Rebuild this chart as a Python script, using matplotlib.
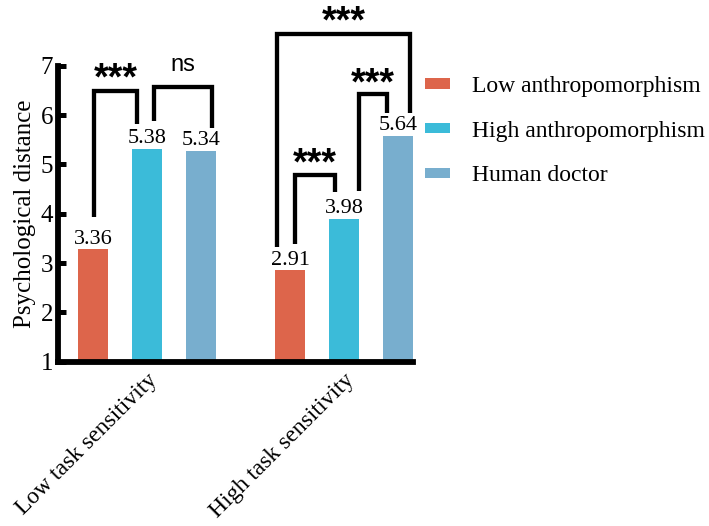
import numpy as np
import matplotlib
matplotlib.use('Agg')
import matplotlib.pyplot as plt

groups = ['Low task sensitivity', 'High task sensitivity']
series = ['Low anthropomorphism', 'High anthropomorphism', 'Human doctor']
colors = ['#DD654B', '#3BBBD9', '#78AECE']
# bar heights as drawn, and the printed values
low_anthro = [3.28, 2.85]
high_anthro = [5.31, 3.90]
human_doc = [5.28, 5.58]
low_text = ['3.36', '2.91']
high_text = ['5.38', '3.98']
human_text = ['5.34', '5.64']
yticks = [1, 2, 3, 4, 5, 6, 7]

# significance brackets: x_left, x_right, y_left, y_right, y_top, label, label y
brackets = [
    (-0.269, -0.051, 3.93, 5.82, 6.49, '***', 6.95),
    (0.036, 0.330, 5.87, 5.74, 6.56, 'ns', 6.90),
    (0.751, 0.954, 3.39, 4.43, 4.79, '***', 5.23),
    (1.076, 1.217, 4.45, 6.04, 6.42, '***', 6.85),
    (0.660, 1.335, 3.33, 6.05, 7.65, '***', 8.11),
]

serif = ['Liberation Serif', 'DejaVu Serif']
plt.rcParams['font.family'] = serif

fig = plt.figure(figsize=(7.09, 5.26), dpi=100)
ax = fig.add_axes([0.0825, 0.3124, 0.5, 0.5627])

x = np.arange(len(groups))
offs = [-0.272, 0.0, 0.274]
width = 0.152
vals = [low_anthro, high_anthro, human_doc]
texts = [low_text, high_text, human_text]
for i in range(3):
    ax.bar(x + offs[i], np.array(vals[i]) - 1, width, bottom=1, color=colors[i],
           label=series[i], zorder=2)
    for j in range(len(groups)):
        ax.annotate(texts[i][j], (x[j] + offs[i], vals[i][j]), xytext=(0, 0.5),
                    textcoords='offset points', ha='center', va='bottom',
                    fontsize=16, zorder=1)

lw = 3.1
star_fs = 27
for xl, xr, yl, yr, yt, lab, ly in brackets:
    ax.plot([xl, xl, xr, xr], [yl, yt, yt, yr], color='black', lw=lw,
            clip_on=False, solid_capstyle='butt', solid_joinstyle='miter', zorder=3)
    if lab == 'ns':
        ax.annotate(lab, ((xl + xr) / 2, ly), ha='center', va='baseline',
                    fontsize=17, family='Liberation Sans', annotation_clip=False)
    else:
        ax.annotate(lab, ((xl + xr) / 2, ly), xytext=(0, -0.57 * star_fs),
                    textcoords='offset points', ha='center', va='baseline',
                    fontsize=star_fs, fontweight='bold', family='Liberation Sans',
                    annotation_clip=False)

ax.set_xlim(-0.449, 1.35)
ax.set_ylim(1, 7)
ax.set_yticks(yticks)
ax.set_xticks(x)
ax.set_xticklabels(groups, rotation=45, ha='right', rotation_mode='anchor', fontsize=17)
ax.tick_params(axis='y', labelsize=18, direction='in', length=6, width=3.6, pad=4)
ax.tick_params(axis='x', direction='in', length=6, width=3.6, pad=6)
ax.set_ylabel('Psychological distance', fontsize=18, labelpad=3)
for s in ['top', 'right']:
    ax.spines[s].set_visible(False)
for s in ['left', 'bottom']:
    ax.spines[s].set_linewidth(4.2)
    ax.spines[s].set_zorder(4)

fig.legend(loc='upper left', bbox_to_anchor=(425 / 709, 0.8555), frameon=False,
           fontsize=17, handlelength=1.06, handleheight=0.30, handletextpad=0.92,
           labelspacing=1.0, borderpad=0, borderaxespad=0)

plt.savefig('out.png', dpi=100)
